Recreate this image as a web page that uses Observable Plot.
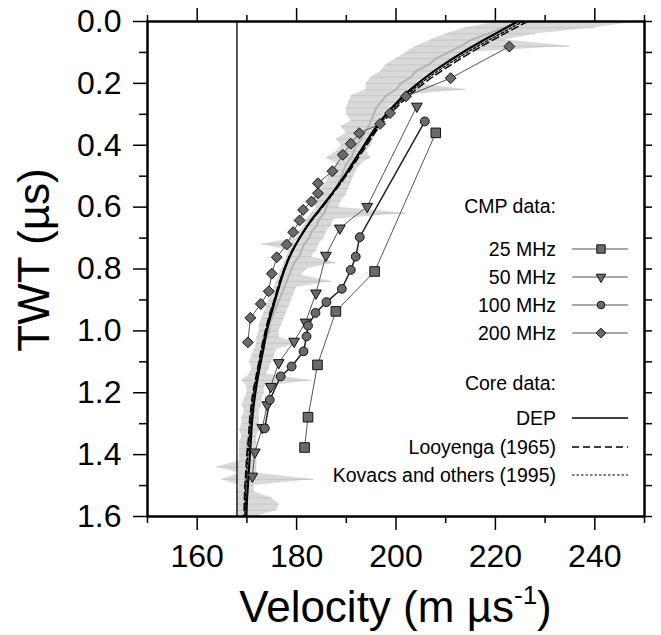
<!DOCTYPE html>
<html><head><meta charset="utf-8">
<script src="https://cdn.jsdelivr.net/npm/d3@7"></script>
<script src="https://cdn.jsdelivr.net/npm/@observablehq/plot@0.6"></script>
<style>body{margin:0;background:#fff}</style>
</head><body>
<div id="chart"></div>
<script>
// ---- Data ----
const grayT = [0.00,0.02,0.04,0.06,0.08,0.10,0.12,0.14,0.16,0.18,0.20,0.22,0.24,0.26,0.28,0.30,0.32,0.34,0.36,0.38,0.40,0.42,0.44,0.46,0.48,0.50,0.52,0.54,0.56,0.58,0.60,0.62,0.64,0.66,0.68,0.70,0.72,0.74,0.76,0.78,0.80,0.82,0.84,0.86,0.88,0.90,0.92,0.94,0.96,0.98,1.00,1.02,1.04,1.06,1.08,1.10,1.12,1.14,1.16,1.18,1.20,1.22,1.24,1.26,1.28,1.30,1.32,1.34,1.36,1.38,1.40,1.42,1.44,1.46,1.48,1.50,1.52,1.54,1.56,1.58,1.60];
const grayV = [225,221.5,218.5,215,213,210.5,208,206.5,204,203,201,200,198,197,196,195.5,195,194.5,193.5,193,192,191.5,191,190,189.5,189,188.5,188,187,186.5,186,185.5,184.5,184,183,182.5,181.5,181,180.5,179.5,179,178.5,178,177.5,177,176.5,176,175.5,175,174.5,174.5,174,173.5,173.5,173,172.5,172.5,172,172,171.5,171.5,171,171,171,170.5,170.5,170.5,170.5,170,170,170,170,170,170,170,170,169.5,169.5,169.5,169.5,170];
const grayLo = [221,214,210,207,204,202,200,198,197,195,194,194,191,190.5,190,190,191,189,190,188,189,188,186,188,187,186.5,186,185,184.5,182,184,183,182,181.5,180.5,180,173,178.5,178,177.5,177,176.5,176,175.5,175,174.5,174,173.5,173,172.5,172.5,172,172,171.5,171,170.5,171,170.5,169,170,170,169.5,169,169.5,169,169,168.5,169,168.5,168.5,168.5,168.5,164,168.5,165,168.5,168,168,168,168,168];
const grayHi = [249,240,228,222,235,214,211.5,209.5,207.5,205.5,204,214,201.5,200,198.5,197.5,197,196.5,196,195.5,195,194,195,193,192,191.5,191,190.5,190,189,188.5,202,187.5,187,186,185.5,184.5,184,183,188,182,181,187,180,179.5,179,178.5,178,177.5,177,176.5,176.5,180,176,175.5,175,174.5,174,183,173.5,173.5,173,173,172.5,172.5,172.5,172.5,172,172,172,172,172,172,172,183.5,171.5,171.5,175,176.5,176,172];

const coreT = [0.00,0.05,0.10,0.15,0.20,0.25,0.30,0.35,0.40,0.45,0.50,0.55,0.60,0.65,0.70,0.75,0.80,0.85,0.90,0.95,1.00,1.05,1.10,1.15,1.20,1.25,1.30,1.35,1.40,1.45,1.50,1.55,1.60];
const depV = [224.5,218.8,213.4,208.6,204.4,200.9,198.0,195.6,193.6,191.6,189.6,187.4,185.0,182.6,180.6,178.9,177.6,176.6,175.7,174.8,174.0,173.4,172.8,172.2,171.7,171.3,171.0,170.8,170.6,170.4,170.2,170.0,169.9];
const looyengaV = [226.5,220.6,215.1,210.1,205.6,201.9,198.8,196.2,194.1,192.0,189.9,187.6,185.2,182.7,180.6,178.8,177.5,176.4,175.5,174.5,173.7,173.0,172.4,171.8,171.2,170.8,170.5,170.3,170.0,169.8,169.6,169.5,169.4];
const kovacsV = [225.6,219.8,214.3,209.4,205.0,201.4,198.4,195.9,193.8,191.8,189.7,187.5,185.1,182.6,180.6,178.8,177.5,176.5,175.5,174.6,173.8,173.1,172.5,171.9,171.4,171.0,170.7,170.5,170.2,170.0,169.8,169.7,169.6];

const mhz25T = [0.36,0.808,0.937,1.11,1.279,1.377];
const mhz25V = [208.0,195.7,187.9,184.2,182.3,181.6];
const mhz50T = [0.274,0.598,0.668,0.756,0.878,0.972,1.034,1.103,1.18,1.239,1.313,1.392,1.47];
const mhz50V = [204.2,194.2,188.7,185.9,183.9,181.8,179.5,176.4,174.8,174.1,173.1,171.6,171.1];
const mhz100T = [0.323,0.697,0.760,0.803,0.864,0.907,0.942,0.983,1.018,1.066,1.115,1.147,1.223,1.315];
const mhz100V = [205.8,192.7,191.9,190.9,189.1,186.0,183.8,182.3,182.0,181.4,179.0,176.8,174.6,173.6];
const mhz200T = [0.081,0.183,0.242,0.296,0.331,0.361,0.395,0.431,0.484,0.523,0.555,0.582,0.609,0.643,0.681,0.721,0.762,0.815,0.872,0.913,0.958,1.037];
const mhz200V = [222.8,211.0,202.0,198.8,196.8,192.6,190.9,189.3,187.2,184.3,184.3,183.0,181.3,180.6,179.3,178.0,176.0,175.0,174.4,172.8,170.7,170.2];

const refVelocity = [168];
const xMajorTicks = [160,180,200,220,240];
const xMinorTicks = [150,170,190,210,230,250];
const yMajorTicks = [0.0,0.2,0.4,0.6,0.8,1.0,1.2,1.4,1.6];
const yMinorTicks = [0.1,0.3,0.5,0.7,0.9,1.1,1.3,1.5];
const xTitle = "Velocity (m µs";
const xTitleSup = "-1";
const yTitle = "TWT (µs)";
const legendHeads = ["CMP data:", "Core data:"];
const cmpLabels = ["25 MHz","50 MHz","100 MHz","200 MHz"];
const coreLabels = ["DEP","Looyenga (1965)","Kovacs and others (1995)"];

// ---- tables ----
const gray = grayT.map((t,i)=>({t, v:grayV[i], lo:grayLo[i], hi:grayHi[i]}));
const core = coreT.map((t,i)=>({t, dep:depV[i], loo:looyengaV[i], kov:kovacsV[i]}));
const mk = (T,V)=>T.map((t,i)=>({t, v:V[i]}));
const s25 = mk(mhz25T,mhz25V), s50 = mk(mhz50T,mhz50V), s100 = mk(mhz100T,mhz100V), s200 = mk(mhz200T,mhz200V);

const triDown = {draw(ctx, size){
  const a = Math.sqrt(4*size/Math.sqrt(3)), h = a*Math.sqrt(3)/2;
  ctx.moveTo(-a/2,-h/3); ctx.lineTo(a/2,-h/3); ctx.lineTo(0,2*h/3); ctx.closePath();
}};
const mFill = "#6a6a6a", mStroke = "#111";
const FONT = "'Liberation Sans', Arial, Helvetica, sans-serif";
const blank = () => "";

const chart = Plot.plot({
  width: 661, height: 635,
  marginLeft: 147, marginRight: 17, marginTop: 21, marginBottom: 119,
  style: {fontFamily: FONT, fontSize: "32px", background: "white", color: "black"},
  x: {domain: [150, 250]},
  y: {domain: [0, 1.6], reverse: true},
  marks: [
    Plot.areaX(gray, {y: "t", x1: "lo", x2: "hi", fill: "#d9d9d9"}),
    Plot.ruleY(gray, {y: "t", x1: "lo", x2: "hi", stroke: "#c6c6c6", strokeWidth: 1}),
    Plot.line(gray, {x: "v", y: "t", stroke: "#b4b4b4", strokeWidth: 2}),
    Plot.ruleX(refVelocity, {stroke: "black", strokeWidth: 1.3}),
    Plot.line(core, {x: "kov", y: "t", stroke: "black", strokeWidth: 1.3, strokeDasharray: "2.5,2", curve: "catmull-rom"}),
    Plot.line(core, {x: "loo", y: "t", stroke: "black", strokeWidth: 1.5, strokeDasharray: "7,4", curve: "catmull-rom"}),
    Plot.line(core, {x: "dep", y: "t", stroke: "black", strokeWidth: 2.2, curve: "catmull-rom"}),
    Plot.line(s25, {x: "v", y: "t", stroke: "#555", strokeWidth: 1}),
    Plot.line(s50, {x: "v", y: "t", stroke: "#555", strokeWidth: 1}),
    Plot.line(s100, {x: "v", y: "t", stroke: "#222", strokeWidth: 1.5}),
    Plot.line(s200, {x: "v", y: "t", stroke: "#555", strokeWidth: 1}),
    Plot.dot(s25, {x: "v", y: "t", symbol: "square", r: 5.4, fill: mFill, stroke: mStroke, strokeWidth: 1}),
    Plot.dot(s50, {x: "v", y: "t", symbol: triDown, r: 4, fill: mFill, stroke: mStroke, strokeWidth: 1}),
    Plot.dot(s100, {x: "v", y: "t", symbol: "circle", r: 4.4, fill: mFill, stroke: mStroke, strokeWidth: 1}),
    Plot.dot(s200, {x: "v", y: "t", symbol: "diamond2", r: 4.9, fill: mFill, stroke: mStroke, strokeWidth: 1}),
    Plot.frame({stroke: "black", strokeWidth: 2.5}),
    Plot.axisX(xMajorTicks, {anchor: "bottom", tickSize: 14, tickPadding: 14, label: null, strokeWidth: 1.5}),
    Plot.axisX(xMinorTicks, {anchor: "bottom", tickSize: 7, tickFormat: blank, label: null, strokeWidth: 1.5}),
    Plot.axisX(xMajorTicks, {anchor: "top", tickSize: 14, tickFormat: blank, label: null, strokeWidth: 1.5}),
    Plot.axisX(xMinorTicks, {anchor: "top", tickSize: 7, tickFormat: blank, label: null, strokeWidth: 1.5}),
    Plot.axisY(yMajorTicks, {anchor: "left", tickSize: 14, tickPadding: 12, tickFormat: d => d.toFixed(1), label: null, strokeWidth: 1.5}),
    Plot.axisY(yMinorTicks, {anchor: "left", tickSize: 8, tickFormat: blank, label: null, strokeWidth: 1.5}),
    Plot.axisY(yMajorTicks.concat(yMinorTicks), {anchor: "right", tickSize: 7, tickFormat: blank, label: null, strokeWidth: 1.5})
  ]
});
document.getElementById("chart").appendChild(chart);

// ---- titles and legend ----
const svg = d3.select(chart);
const xt = svg.append("text").attr("x", 395.5).attr("y", 622).attr("text-anchor", "middle")
  .attr("font-family", FONT).attr("font-size", 44).attr("fill", "black");
xt.append("tspan").text(xTitle);
xt.append("tspan").attr("font-size", 26).attr("dy", -18).text(xTitleSup);
xt.append("tspan").attr("font-size", 44).attr("dy", 18).text(")");
svg.append("text").attr("transform", "translate(49,260) rotate(-90)").attr("text-anchor", "middle")
  .attr("font-family", FONT).attr("font-size", 44).attr("fill", "black").text(yTitle);

const lg = svg.append("g").attr("font-family", FONT).attr("font-size", 19.5).attr("fill", "black");
const tx = 556, lx1 = 572, lx2 = 628, mx = 601;
lg.append("text").attr("x", tx).attr("y", 213).attr("text-anchor", "end").text(legendHeads[0]);
const cmpY = [249, 277, 305, 333];
const cmpSym = [d3.symbolSquare, triDown, d3.symbolCircle, d3.symbolDiamond2];
const cmpSize = [70, 40, 45, 60];
cmpLabels.forEach((lab, i) => {
  lg.append("text").attr("x", tx).attr("y", cmpY[i] + 7).attr("text-anchor", "end").text(lab);
  lg.append("line").attr("x1", lx1).attr("x2", lx2).attr("y1", cmpY[i]).attr("y2", cmpY[i]).attr("stroke", "#555").attr("stroke-width", 1);
  lg.append("path").attr("d", d3.symbol(cmpSym[i], cmpSize[i])()).attr("transform", `translate(${mx},${cmpY[i]})`)
    .attr("fill", mFill).attr("stroke", mStroke).attr("stroke-width", 1);
});
lg.append("text").attr("x", tx).attr("y", 390).attr("text-anchor", "end").text(legendHeads[1]);
const coreY = [418, 447, 475];
const coreDash = [null, "7,4", "2.5,2"];
const coreW = [1.6, 1.4, 1.2];
coreLabels.forEach((lab, i) => {
  lg.append("text").attr("x", tx).attr("y", coreY[i] + 7).attr("text-anchor", "end").text(lab);
  const l = lg.append("line").attr("x1", lx1).attr("x2", lx2).attr("y1", coreY[i]).attr("y2", coreY[i]).attr("stroke", "black").attr("stroke-width", coreW[i]);
  if (coreDash[i]) l.attr("stroke-dasharray", coreDash[i]);
});
</script>
</body></html>
